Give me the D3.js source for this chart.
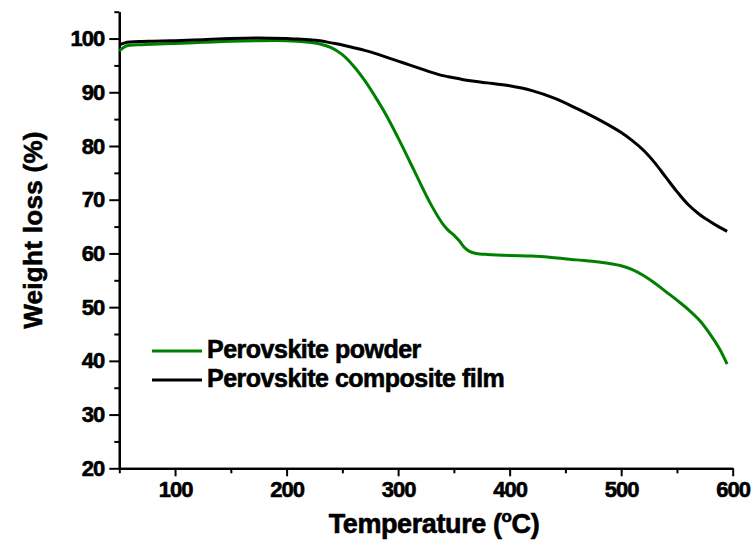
<!DOCTYPE html>
<html>
<head>
<meta charset="utf-8">
<script src="https://cdn.jsdelivr.net/npm/d3@7"></script>
<style>
  html, body { margin: 0; padding: 0; background: #fff; }
  svg { display: block; }
  text { font-family: "Liberation Sans", Arial, sans-serif; font-weight: bold; fill: #000; }
</style>
</head>
<body>
<svg id="chart" width="756" height="550"></svg>
<script>
// ---- data ----
const temperature = [50,55,60,70,80,100,125,150,175,200,210,220,230,240,250,260,270,280,290,300,310,320,330,340,345,350,355,360,365,370,380,400,420,440,460,480,500,510,520,530,540,550,560,570,580,588,595];
const powderWeight = [97.7,98.5,98.75,98.85,98.95,99.1,99.3,99.5,99.6,99.6,99.5,99.3,99.0,98.3,97.0,94.9,92.2,89.0,85.5,81.5,77.3,73.0,68.9,65.5,64.3,63.4,62.3,61.0,60.3,60.0,59.8,59.6,59.5,59.2,58.8,58.4,57.7,57.0,55.9,54.5,52.9,51.3,49.6,47.6,44.9,42.3,39.4];
const filmWeight = [98.8,99.2,99.35,99.45,99.5,99.6,99.8,100.0,100.1,100.0,99.9,99.8,99.6,99.2,98.8,98.3,97.8,97.2,96.5,95.8,95.1,94.4,93.7,93.1,92.9,92.7,92.5,92.3,92.15,92.0,91.75,91.2,90.3,88.9,87.0,84.9,82.5,81.0,79.2,76.9,74.2,71.5,69.1,67.3,65.9,64.9,64.1];
const seriesNames = ["Perovskite powder", "Perovskite composite film"];
const seriesColors = ["#008000", "#000000"];
const xTicks = [100, 200, 300, 400, 500, 600];
const xMinorTicks = [50, 150, 250, 350, 450, 550];
const yTicks = [20, 30, 40, 50, 60, 70, 80, 90, 100];
const yMinorTicks = [25, 35, 45, 55, 65, 75, 85, 95, 105];

// ---- layout ----
const svg = d3.select("#chart");
const x = d3.scaleLinear().domain([50, 600]).range([119.3, 732.7]);
const y = d3.scaleLinear().domain([20, 105]).range([468.3, 11.7]);

// axes
const gx = svg.append("g").attr("transform", `translate(0,${y(20)})`);
gx.call(d3.axisBottom(x).tickValues(xTicks).tickSize(8).tickPadding(5).tickSizeOuter(0));
const gxm = svg.append("g").attr("transform", `translate(0,${y(20)})`);
gxm.call(d3.axisBottom(x).tickValues(xMinorTicks).tickSize(5).tickFormat("").tickSizeOuter(0));

const gy = svg.append("g").attr("transform", `translate(${x(50)},0)`);
gy.call(d3.axisLeft(y).tickValues(yTicks).tickSize(10).tickPadding(5).tickSizeOuter(0));
const gym = svg.append("g").attr("transform", `translate(${x(50)},0)`);
gym.call(d3.axisLeft(y).tickValues(yMinorTicks).tickSize(5).tickFormat("").tickSizeOuter(0));

svg.selectAll(".domain").attr("stroke", "#000").attr("stroke-width", 2.2);
svg.selectAll(".tick line").attr("stroke", "#000").attr("stroke-width", 2);
svg.selectAll(".tick text")
  .style("font-size", "22px")
  .style("font-weight", "bold")
  .style("font-family", '"Liberation Sans", Arial, sans-serif')
  .style("letter-spacing", "-1px")
  .style("stroke", "#000")
  .style("stroke-width", "0.6px");

// lines
const series = [powderWeight, filmWeight];
const line = d3.line()
  .x((d, i) => x(temperature[i]))
  .y(d => y(d))
  .curve(d3.curveCatmullRom.alpha(0.5));

[0, 1].forEach(k => {
  svg.append("path")
    .datum(series[k])
    .attr("fill", "none")
    .attr("stroke", seriesColors[k])
    .attr("stroke-width", 3)
    .attr("stroke-linejoin", "round")
    .attr("stroke-linecap", "butt")
    .attr("d", line);
});

// legend
const legendRows = [351, 380];
seriesNames.forEach((name, k) => {
  svg.append("line")
    .attr("x1", 152).attr("x2", 202)
    .attr("y1", legendRows[k]).attr("y2", legendRows[k])
    .attr("stroke", seriesColors[k]).attr("stroke-width", 3);
  svg.append("text")
    .attr("x", 207).attr("y", legendRows[k] + 7)
    .style("font-size", "25px")
    .style("letter-spacing", "-0.5px")
    .style("stroke", "#000")
    .style("stroke-width", "0.6px")
    .text(name);
});

// axis titles
const xt = svg.append("text")
  .attr("x", 434).attr("y", 533)
  .attr("text-anchor", "middle")
  .style("font-size", "27px")
  .style("letter-spacing", "-0.4px")
  .style("stroke", "#000")
  .style("stroke-width", "0.6px");
xt.append("tspan").text("Temperature (");
xt.append("tspan").text("o").style("font-size", "17px").attr("dy", -11);
xt.append("tspan").text("C)").attr("dy", 11);

svg.append("text")
  .attr("transform", "translate(42,230) rotate(-90)")
  .attr("text-anchor", "middle")
  .style("font-size", "26px")
  .style("letter-spacing", "0.3px")
  .style("stroke", "#000")
  .style("stroke-width", "0.6px")
  .text("Weight loss (%)");
</script>
</body>
</html>
